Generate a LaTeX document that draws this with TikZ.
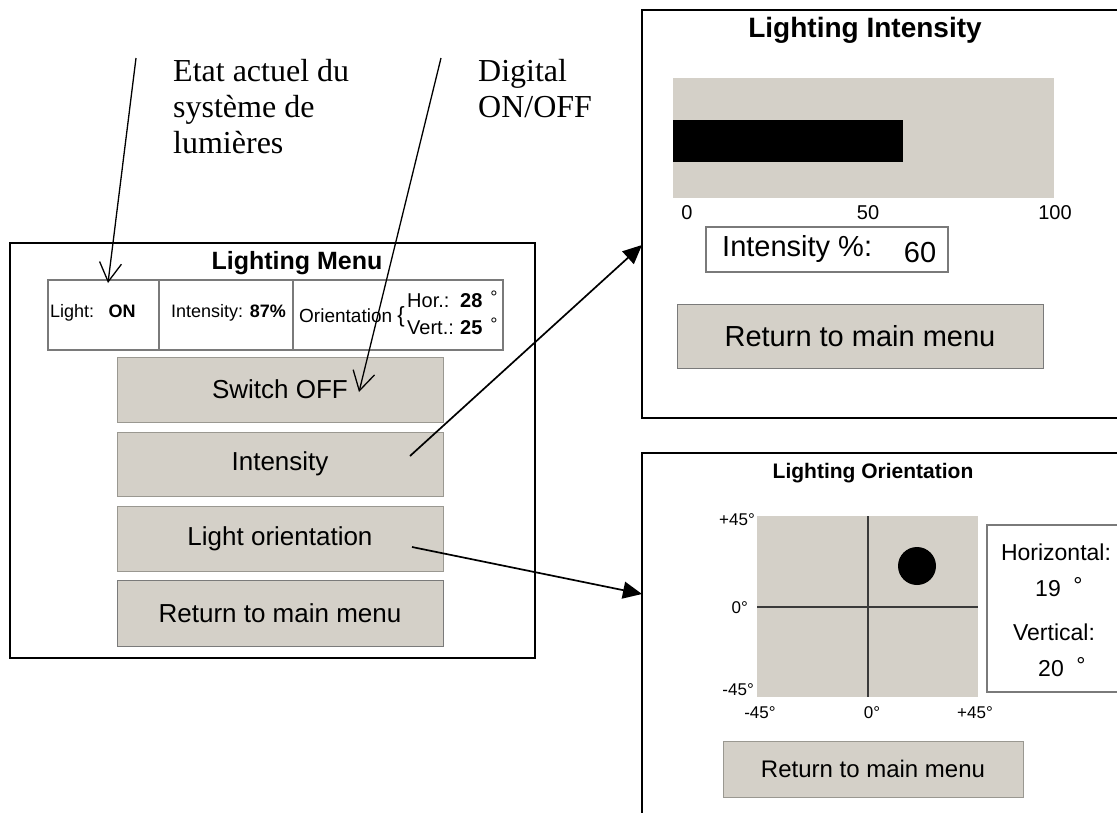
\documentclass[tikz,border=0pt]{standalone}
\usepackage{fontspec}
\setmainfont{Liberation Serif}
\newfontfamily\uifont{Liberation Sans}
\usetikzlibrary{arrows.meta}
\definecolor{btnface}{HTML}{D4D0C8}
\definecolor{btnedge}{HTML}{9A9891}
\definecolor{celledge}{HTML}{7A7A7A}
\definecolor{gridline}{HTML}{3A3A3A}
\newcommand\fsz[1]{\fontsize{#1}{#1}\selectfont}

\begin{document}
\begin{tikzpicture}[x=1pt,y=-1pt,
  win/.style={draw=black, line width=1.8pt, inner sep=0, fill=white},
  btn/.style={fill=btnface, draw=btnedge, line width=0.9pt, inner sep=0, font=\uifont\fsz{26}},
  cell/.style={draw=celledge, line width=1.2pt, inner sep=0},
  frame/.style={draw=celledge, line width=1.2pt, inner sep=0},
  lbl/.style={inner sep=0, font=\uifont\fsz{18}},
  ttl/.style={inner sep=0, font=\uifont\bfseries\fsz{#1}},
  txt/.style={inner sep=0, font=\uifont\fsz{#1}},
  note/.style={inner sep=0, align=left, anchor=north west, font=\fontsize{32}{36}\selectfont},
  notearrow/.style={line width=1.3pt, -{Straight Barb[length=19pt,width=22pt]}},
  link/.style={line width=1.7pt, -{Triangle[length=19pt,width=17pt]}}
]
\useasboundingbox (0,0) rectangle (1117,812);
\fill[white] (0,0) rectangle (1117,812);

% ---------- main lighting menu ----------
\node[win, minimum width=525pt, minimum height=415pt] (menuwin) at (272.5,450.5) {};
\node[ttl=25] (menutitle) at (297,263) {Lighting Menu};

% status table
\node[cell, minimum width=111pt, minimum height=70pt] (cellA) at (103.5,315) {};
\node[cell, minimum width=134pt, minimum height=70pt] (cellB) at (226,315) {};
\node[cell, minimum width=210pt, minimum height=70pt] (cellC) at (398,315) {};
\node[lbl, anchor=west] (lightlbl) at (50,313) {Light:\hspace{0.8em}\textbf{ON}};
\node[lbl, anchor=west] (intlbl) at (171,313) {Intensity: \textbf{87\%}};
\node[lbl, font=\uifont\fsz{19}, anchor=west] (orilbl) at (299,317) {Orientation {\fsz{22}\{}};
\node[lbl, font=\uifont\fsz{20}, anchor=west] (horlbl) at (407,301) {\makebox[53pt][l]{Hor.:}\textbf{28}};
\node[lbl] (hordeg) at (494,297) {°};
\node[lbl, font=\uifont\fsz{20}, anchor=west] (vertlbl) at (407,328) {\makebox[53pt][l]{Vert.:}\textbf{25}};
\node[lbl] (vertdeg) at (494,324) {°};

% menu buttons
\node[btn, minimum width=326pt, minimum height=65pt] (bswitch) at (280,389.5) {Switch OFF};
\node[btn, minimum width=326pt, minimum height=64pt] (bint) at (280,464) {Intensity};
\node[btn, minimum width=326pt, minimum height=65pt] (borient) at (280,538.5) {Light orientation};
\node[btn, draw=celledge, minimum width=326pt, minimum height=66pt] (breturn) at (280,613) {Return to main menu};

% ---------- intensity screen ----------
\node[win, minimum width=483pt, minimum height=408pt] (intwin) at (883.5,214) {};
\node[ttl=28] (inttitle) at (865,30) {Lighting Intensity};
\node[fill=btnface, inner sep=0, minimum width=381pt, minimum height=120pt] (bartrack) at (863.5,138) {};
\node[fill=black, inner sep=0, minimum width=230pt, minimum height=42pt] (barlevel) at (788,141) {};
\node[txt=20] (scale0) at (687,213) {0};
\node[txt=20] (scale50) at (868,213) {50};
\node[txt=20] (scale100) at (1055,213) {100};
\node[frame, minimum width=242pt, minimum height=45pt] (intbox) at (827,249.5) {};
\node[txt=29, anchor=west] (intboxlbl) at (722,249) {Intensity \%:};
\node[txt=29] (intboxval) at (920,253) {60};
\node[btn, draw=celledge, minimum width=366pt, minimum height=64pt, font=\uifont\fsz{29}] (intret) at (860,336) {Return to main menu};

% ---------- orientation screen ----------
\node[win, minimum width=483pt, minimum height=380pt] (oriwin) at (883.5,643) {};
\node[ttl=21] (orititle) at (873,473) {Lighting Orientation};
\node[fill=btnface, inner sep=0, minimum width=221pt, minimum height=181pt] (pad) at (867.5,606.5) {};
\draw[gridline, line width=1.3pt] (868,516) -- (868,697);
\draw[gridline, line width=1.3pt] (757,607) -- (978,607);
\node[circle, fill=black, inner sep=0, minimum size=38pt] (spot) at (917,566) {};
\node[txt=17, anchor=east] (ytop) at (755,520) {+45°};
\node[txt=17, anchor=east] (ymid) at (748,608) {0°};
\node[txt=17, anchor=east] (ybot) at (754,690) {-45°};
\node[txt=17] (xleft) at (760,713) {-45°};
\node[txt=17] (xmid) at (872,713) {0°};
\node[txt=17] (xright) at (975,713) {+45°};
\node[frame, minimum width=140pt, minimum height=167pt] (valbox) at (1057,608.5) {};
\node[txt=23] (horname) at (1056,552) {Horizontal:};
\node[txt=23] (horval) at (1048,589) {19};
\node[txt=23] (horvaldeg) at (1078,585) {°};
\node[txt=23] (vertname) at (1054,632) {Vertical:};
\node[txt=23] (vertval) at (1051,669) {20};
\node[txt=23] (vertvaldeg) at (1081,665) {°};
\node[btn, minimum width=300pt, minimum height=56pt, font=\uifont\fsz{24}] (oriret) at (873,769) {Return to main menu};

% ---------- annotations ----------
\node[note] (statenote) at (173,59) {Etat actuel du\\système de\\lumières};
\node[note] (switchnote) at (478,59) {Digital\\ON/OFF};

\coordinate (statetail) at (136,58);
\coordinate (statetip) at (108,283);
\coordinate (switchtail) at (441,58);
\coordinate (switchtip) at (359,392);
\coordinate (fromint) at (410,456);
\coordinate (toint) at (642,245);
\coordinate (fromori) at (412,547);
\coordinate (toori) at (642,594);

\draw[notearrow] (statetail) -- (statetip);
\draw[notearrow] (switchtail) -- (switchtip);
\draw[link] (fromint) -- (toint);
\draw[link] (fromori) -- (toori);
\end{tikzpicture}
\end{document}
